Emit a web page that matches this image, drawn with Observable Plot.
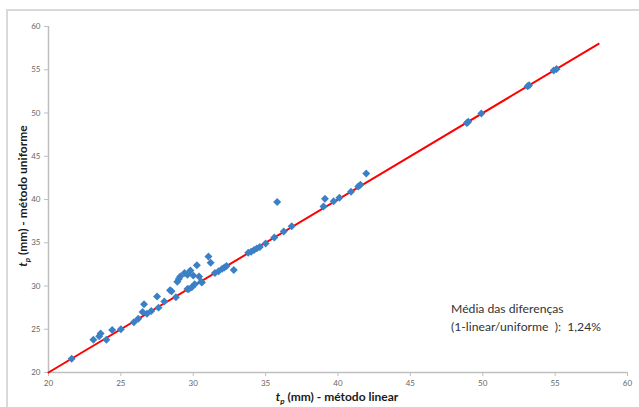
<!DOCTYPE html>
<html>
<head>
<meta charset="utf-8">
<script src="https://cdn.jsdelivr.net/npm/d3@7"></script>
<script src="https://cdn.jsdelivr.net/npm/@observablehq/plot@0.6"></script>
<style>
  html, body { margin: 0; padding: 0; background: #fff; }
  #wrap { position: relative; width: 639px; height: 407px; overflow: hidden; }
  #frame { position: absolute; left: 6px; top: 9px; width: 700px; height: 500px; border: 2px solid #d9d9d9; box-sizing: border-box; }
  #chart { position: absolute; left: 0; top: 0; }
</style>
</head>
<body>
<div id="wrap"><div id="frame"></div><div id="chart"></div></div>
<script>
// t_p (mm) - método linear
const linear = [
  21.6, 23.1, 23.5, 23.6, 24.0, 24.4, 25.0, 25.9, 26.2, 26.5, 26.6, 26.8, 27.1,
  27.5, 27.6, 28.0, 28.4, 28.5, 28.8, 28.9, 29.0, 29.1, 29.4, 29.6, 29.6, 29.7,
  29.8, 29.9, 30.0, 30.1, 30.25, 30.4, 30.55, 30.6, 31.05, 31.2, 31.5, 31.75,
  32.0, 32.15, 32.3, 32.8, 33.8, 34.0, 34.2, 34.4, 34.6, 35.0, 35.6, 35.8,
  36.25, 36.8, 39.0, 39.1, 39.7, 40.1, 40.9, 41.4, 41.55, 41.95,
  48.9, 49.0, 49.9, 53.1, 53.2, 54.9, 55.1
];
// t_p (mm) - método uniforme
const uniforme = [
  21.6, 23.8, 24.2, 24.5, 23.8, 24.9, 25.0, 25.8, 26.2, 27.0, 27.9, 26.8, 27.1,
  28.8, 27.5, 28.2, 29.5, 29.4, 28.7, 30.5, 30.8, 31.1, 31.5, 31.3, 29.65, 29.65,
  31.8, 29.85, 31.2, 30.2, 32.4, 31.1, 30.5, 30.4, 33.4, 32.7, 31.5, 31.7,
  32.0, 32.15, 32.3, 31.85, 33.85, 33.95, 34.15, 34.35, 34.5, 34.9, 35.6, 39.7,
  36.3, 36.9, 39.2, 40.1, 39.8, 40.2, 40.9, 41.5, 41.7, 43.0,
  48.85, 49.0, 49.95, 53.1, 53.2, 54.9, 55.1
];
// linha de igualdade
const lineX = [20, 58];
const lineY = [20, 58];
const xTicks = [20, 25, 30, 35, 40, 45, 50, 55, 60];
const yTicks = [20, 25, 30, 35, 40, 45, 50, 55, 60];

const points = linear.map((x, i) => ({x, y: uniforme[i]}));
const line = lineX.map((x, i) => ({x, y: lineY[i]}));

const axisColor = "#bfbfbf";
const textColor = "#666666";

const plot = Plot.plot({
  width: 639,
  height: 407,
  marginLeft: 48,
  marginRight: 12,
  marginTop: 26,
  marginBottom: 35,
  style: { fontFamily: "Lato, 'Open Sans', sans-serif", fontSize: "8px", color: textColor, background: "transparent" },
  x: { domain: [20, 60], ticks: xTicks, label: null },
  y: { domain: [20, 60], ticks: yTicks, label: null },
  marks: [
    Plot.axisX({ ticks: xTicks, tickSize: 4, tickPadding: 4, stroke: axisColor, fill: textColor, label: null }),
    Plot.axisY({ ticks: yTicks, tickSize: 4, tickPadding: 4, stroke: axisColor, fill: textColor, label: null }),
    Plot.ruleX([20], { stroke: axisColor, strokeWidth: 1.5 }),
    Plot.ruleY([20], { stroke: axisColor, strokeWidth: 1.5 }),
    Plot.line(line, { x: "x", y: "y", stroke: "#ff0000", strokeWidth: 2 }),
    Plot.dot(points, { x: "x", y: "y", symbol: "diamond2", r: 3.6, fill: "#3b80c6", stroke: "none" })
  ]
});
document.getElementById("chart").appendChild(plot);

const svg = d3.select(plot);
const bold = { "font-family": "Lato, 'Open Sans', sans-serif", "font-weight": "bold", "font-size": "12px", fill: "#1a1a1a" };

function axisTitle(g, rest) {
  const t = g.append("text");
  Object.entries(bold).forEach(([k, v]) => t.attr(k, v));
  t.attr("text-anchor", "middle");
  t.append("tspan").attr("font-style", "italic").text("t");
  t.append("tspan").attr("font-style", "italic").attr("font-size", "8px").attr("dy", "3").text("p");
  t.append("tspan").attr("dy", "-3").text(rest);
  return t;
}
axisTitle(svg.append("g").attr("transform", "translate(337,401)"), " (mm) - método linear");
axisTitle(svg.append("g").attr("transform", "translate(27,196) rotate(-90)"), " (mm) - método uniforme");

const note = svg.append("text")
  .attr("text-anchor", "start")
  .attr("font-family", "Lato, 'Open Sans', sans-serif")
  .attr("font-size", "12.2px")
  .attr("fill", "#333");
note.append("tspan").attr("x", 451).attr("y", 313).text("Média das diferenças");
note.append("tspan").attr("x", 451).attr("y", 331).attr("xml:space", "preserve").text("(1-linear/uniforme  ):  1,24%");
</script>
</body>
</html>
